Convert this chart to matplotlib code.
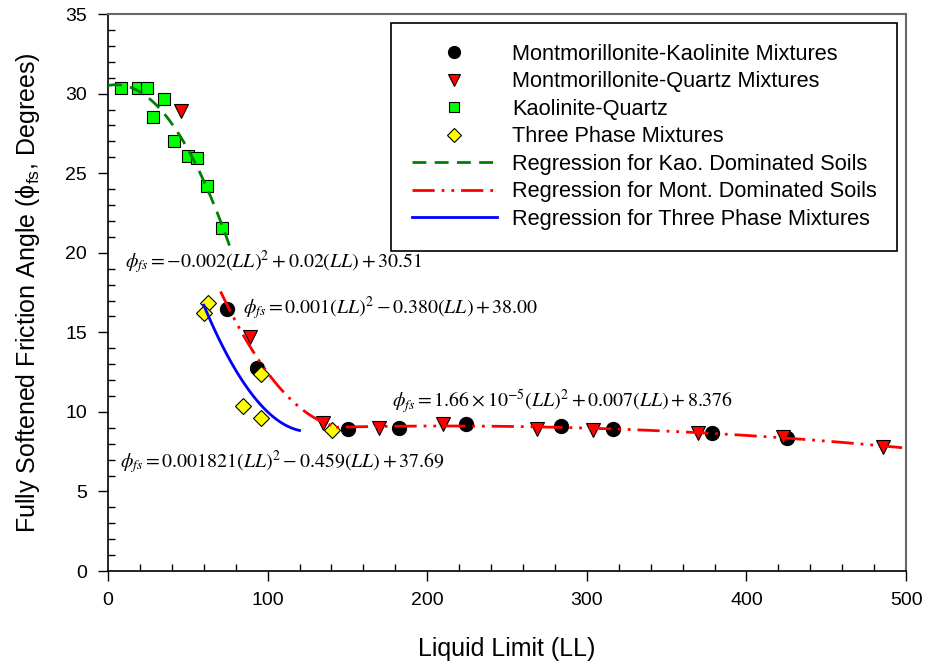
import numpy as np
import matplotlib
matplotlib.use('Agg')
import matplotlib.pyplot as plt
from matplotlib.ticker import MultipleLocator

plt.rcParams['font.family'] = ['Liberation Sans', 'DejaVu Sans']
plt.rcParams['mathtext.fontset'] = 'stix'

# Montmorillonite-Kaolinite mixtures
mk_ll = [74.6, 93.4, 150.4, 182.3, 224.3, 283.5, 316.5, 378.4, 425.4]
mk_phi = [16.47, 12.76, 8.93, 8.99, 9.24, 9.13, 8.93, 8.67, 8.36]

# Montmorillonite-Quartz mixtures
mq_ll = [45.7, 89.0, 134.7, 169.8, 209.9, 268.8, 303.9, 369.7, 422.9, 485.6]
mq_phi = [28.9, 14.7, 9.3, 9.0, 9.24, 8.93, 8.86, 8.67, 8.42, 7.8]

# Kaolinite-Quartz
kq_ll = [8.1, 18.8, 24.4, 35.1, 28.2, 41.4, 50.1, 55.8, 62.0, 71.4]
kq_phi = [30.36, 30.36, 30.36, 29.67, 28.54, 27.03, 26.08, 25.96, 24.2, 21.56]

# Three phase mixtures
tp_ll = [62.7, 60.2, 95.9, 84.6, 95.9, 140.4]
tp_phi = [16.85, 16.2, 12.38, 10.37, 9.62, 8.86]

# regression coefficients (a, b, c) and ranges
kao_coef = [-0.002, 0.02, 30.51]
kao_range = [0, 77]
mont_coef_low = [0.0013, -0.3947, 38.93]
mont_coef_high = [-1.66e-5, 0.007, 8.376]
mont_range = [70.5, 140, 500]
three_coef = [0.001821, -0.459, 37.69]
three_range = [60, 120]

fig = plt.figure(figsize=(9.28, 6.67), dpi=100)
ax = fig.add_axes([0.1164, 0.1439, 0.86, 0.835])

ms = 10
ax.plot(mk_ll, mk_phi, 'o', color='black', mec='black', ms=ms, zorder=3,
        label='Montmorillonite-Kaolinite Mixtures')
ax.plot(mq_ll, mq_phi, 'v', color='red', mec='black', mew=0.8, ms=ms, zorder=3,
        label='Montmorillonite-Quartz Mixtures')
ax.plot(kq_ll, kq_phi, 's', color='#00ff00', mec='black', mew=0.8, ms=ms - 1, zorder=3,
        label='Kaolinite-Quartz')
ax.plot(tp_ll, tp_phi, 'D', color='#ffff00', mec='black', mew=0.8, ms=ms - 2, zorder=3,
        label='Three Phase Mixtures')

x = np.linspace(kao_range[0], kao_range[1], 100)
ax.plot(x, np.polyval(kao_coef, x), color='#008000', lw=2, dashes=(5, 3), zorder=4,
        label='Regression for Kao. Dominated Soils')

x1 = np.linspace(mont_range[0], mont_range[1], 80)
x2 = np.linspace(mont_range[1], mont_range[2], 200)
xm = np.concatenate([x1, x2])
ym = np.concatenate([np.polyval(mont_coef_low, x1), np.polyval(mont_coef_high, x2)])
ax.plot(xm, ym, color='red', lw=2, dashes=(8, 2.5, 1, 2.5, 1, 2.5), zorder=4,
        label='Regression for Mont. Dominated Soils')

x = np.linspace(three_range[0], three_range[1], 100)
ax.plot(x, np.polyval(three_coef, x), color='blue', lw=2, zorder=4,
        label='Regression for Three Phase Mixtures')

ax.set_xlim(0, 500)
ax.set_ylim(0, 35)
ax.xaxis.set_major_locator(MultipleLocator(100))
ax.xaxis.set_minor_locator(MultipleLocator(20))
ax.yaxis.set_major_locator(MultipleLocator(5))
ax.yaxis.set_minor_locator(MultipleLocator(1))
ax.tick_params(which='major', direction='out', length=7, width=1, labelsize=14, pad=8)
ax.tick_params(which='minor', direction='in', length=5, width=1)
for s in ['top', 'right']:
    ax.spines[s].set_color('#666666')
    ax.spines[s].set_linewidth(1.5)
for s in ['left', 'bottom']:
    ax.spines[s].set_linewidth(1.2)

ax.set_xlabel('Liquid Limit (LL)', fontsize=18, labelpad=20)
ax.set_ylabel(r'Fully Softened Friction Angle ($\mathregular{\phi_{fs}}$, Degrees)', fontsize=18, labelpad=17)

tsize = 14.3
ax.text(10.6, 19.4, r'$\phi_{fs} = -0.002(LL)^2 + 0.02(LL) + 30.51$', fontsize=tsize, va='center')
ax.text(84.6, 16.5, r'$\phi_{fs} = 0.001(LL)^2 - 0.380(LL) + 38.00$', fontsize=tsize, va='center')
ax.text(178, 10.6, r'$\phi_{fs} = 1.66\times10^{-5}(LL)^2 + 0.007(LL) + 8.376$', fontsize=tsize, va='center')
ax.text(7.5, 6.85, r'$\phi_{fs} = 0.001821(LL)^2 - 0.459(LL) + 37.69$', fontsize=tsize, va='center')

leg = ax.legend(loc='upper right', bbox_to_anchor=(0.989, 0.984), borderaxespad=0,
                fontsize=15.7, numpoints=1, handlelength=3.9, markerscale=0.85,
                labelspacing=0.3, borderpad=0.95, handletextpad=0.7,
                fancybox=False, framealpha=1, edgecolor='black')
leg.get_frame().set_linewidth(1.2)

fig.savefig('out.png', dpi=100)
